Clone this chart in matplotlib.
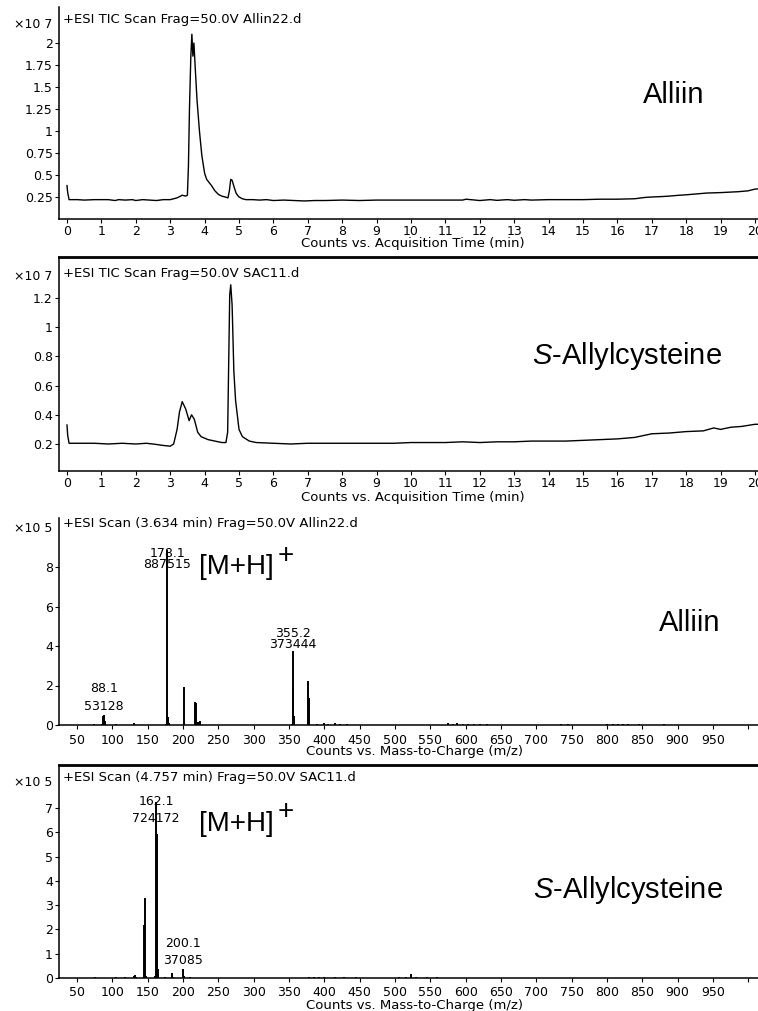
import matplotlib.pyplot as plt

W, H = 758, 1011
plt.rcParams['font.family'] = ['DejaVu Sans']
plt.rcParams['mathtext.fontset'] = 'custom'
plt.rcParams['mathtext.rm'] = 'Liberation Sans'
plt.rcParams['mathtext.it'] = 'Liberation Sans:italic'

# --- TIC chromatogram, Alliin (x1e7 counts) ---
alliin_t = [0.0, 0.02, 0.06, 0.3, 0.5, 0.8, 1.0, 1.2, 1.4, 1.5, 1.7, 1.9, 2.0, 2.2, 2.4, 2.6,
            2.8, 3.0, 3.1, 3.2, 3.3, 3.35, 3.45, 3.5, 3.53, 3.56, 3.6, 3.63, 3.66, 3.69, 3.73,
            3.78, 3.85, 3.92, 4.0, 4.06, 4.12, 4.2, 4.3, 4.4, 4.5, 4.6, 4.68, 4.72, 4.76, 4.8,
            4.86, 4.92, 5.0, 5.1, 5.2, 5.4, 5.6, 5.8, 6.0, 6.3, 6.6, 6.9, 7.2, 7.5, 8.0, 8.5,
            9.0, 9.5, 10.0, 10.5, 11.0, 11.5, 11.6, 12.0, 12.3, 12.5, 12.8, 13.0, 13.3, 13.5,
            14.0, 14.5, 15.0, 15.5, 16.0, 16.5, 16.8, 17.0, 17.3, 17.5, 17.8, 18.0, 18.3, 18.6,
            19.0, 19.5, 19.8, 20.0, 20.2]
alliin_v = [0.38, 0.30, 0.22, 0.22, 0.215, 0.22, 0.22, 0.22, 0.21, 0.22, 0.215, 0.22, 0.21, 0.22,
            0.215, 0.21, 0.22, 0.22, 0.23, 0.24, 0.26, 0.27, 0.26, 0.27, 0.6, 1.25, 1.85, 2.1,
            1.85, 2.0, 1.7, 1.35, 1.0, 0.72, 0.52, 0.45, 0.42, 0.38, 0.32, 0.28, 0.26, 0.25,
            0.24, 0.32, 0.45, 0.44, 0.36, 0.29, 0.25, 0.23, 0.22, 0.22, 0.215, 0.22, 0.21,
            0.215, 0.21, 0.205, 0.21, 0.21, 0.215, 0.21, 0.215, 0.215, 0.215, 0.215, 0.215,
            0.215, 0.225, 0.21, 0.22, 0.212, 0.22, 0.213, 0.22, 0.215, 0.22, 0.22, 0.22, 0.225,
            0.225, 0.23, 0.245, 0.25, 0.255, 0.26, 0.27, 0.275, 0.285, 0.295, 0.30, 0.31, 0.32,
            0.34, 0.345]

# --- TIC chromatogram, S-Allylcysteine (x1e7 counts) ---
sac_t = [0.0, 0.02, 0.06, 0.4, 0.8, 1.2, 1.6, 2.0, 2.3, 2.5, 2.8, 3.0, 3.1, 3.2, 3.27, 3.35,
         3.45, 3.55, 3.62, 3.7, 3.8, 3.9, 4.1, 4.3, 4.5, 4.62, 4.67, 4.7, 4.73, 4.76, 4.8, 4.85,
         4.9, 4.95, 5.0, 5.1, 5.3, 5.5, 6.0, 6.5, 7.0, 7.5, 8.0, 8.5, 9.0, 9.5, 10.0, 10.5, 11.0,
         11.5, 12.0, 12.5, 13.0, 13.5, 14.0, 14.5, 15.0, 15.5, 16.0, 16.5, 17.0, 17.5, 18.0,
         18.5, 18.8, 19.0, 19.3, 19.6, 20.0, 20.2]
sac_v = [0.33, 0.26, 0.205, 0.205, 0.205, 0.2, 0.205, 0.2, 0.205, 0.2, 0.19, 0.185, 0.2, 0.3,
         0.42, 0.49, 0.44, 0.36, 0.40, 0.37, 0.28, 0.25, 0.23, 0.22, 0.21, 0.21, 0.28, 0.75,
         1.22, 1.29, 1.15, 0.7, 0.5, 0.4, 0.3, 0.25, 0.22, 0.21, 0.205, 0.2, 0.205, 0.205,
         0.205, 0.205, 0.205, 0.205, 0.21, 0.21, 0.21, 0.215, 0.21, 0.215, 0.215, 0.22, 0.22,
         0.22, 0.225, 0.23, 0.235, 0.245, 0.27, 0.275, 0.285, 0.29, 0.31, 0.3, 0.315, 0.32,
         0.335, 0.335]

# --- MS spectrum at 3.634 min, Alliin (x1e5 counts) ---
ms1_mz = [74, 86, 87, 88, 89, 105, 118, 130, 131, 176, 177, 178, 179, 180, 201, 202, 217,
          218, 219, 221, 224, 354, 355, 356, 357, 377, 378, 379, 390, 399, 405, 415, 422, 432,
          575, 582, 588, 596, 604, 612, 620, 630, 735, 745, 800, 808, 815, 822, 830, 845, 880]
ms1_int = [0.04, 0.05, 0.45, 0.53, 0.2, 0.03, 0.02, 0.1, 0.05, 0.04, 0.1, 8.875, 0.4, 0.1,
           1.9, 0.1, 1.16, 1.1, 0.05, 0.15, 0.2, 0.05, 3.73, 1.87, 0.44, 2.21, 1.37, 0.05, 0.05,
           0.12, 0.05, 0.08, 0.05, 0.05, 0.08, 0.05, 0.12, 0.06, 0.05, 0.04, 0.05, 0.04, 0.05,
           0.04, 0.04, 0.06, 0.05, 0.05, 0.04, 0.03, 0.03]

# --- MS spectrum at 4.757 min, S-Allylcysteine (x1e5 counts) ---
ms2_mz = [60, 75, 90, 105, 118, 130, 132, 134, 145, 146, 147, 161, 162, 163, 164, 165, 175,
          184, 185, 186, 200, 201, 210, 225, 305, 325, 348, 378, 385, 392, 400, 415, 428, 445,
          505, 515, 523, 530, 545, 560, 720, 750]
ms2_int = [0.02, 0.03, 0.02, 0.06, 0.05, 0.1, 0.12, 0.05, 2.2, 3.29, 0.1, 0.1, 7.24, 5.93,
           0.35, 0.12, 0.05, 0.18, 0.22, 0.05, 0.37, 0.1, 0.03, 0.02, 0.02, 0.02, 0.02, 0.04,
           0.03, 0.03, 0.03, 0.03, 0.03, 0.03, 0.04, 0.06, 0.15, 0.05, 0.04, 0.03, 0.02, 0.02]

# labelled peaks
ms1_lab_mz = [88.1, 178.1, 355.2]
ms1_lab_cnt = [53128, 887515, 373444]
ms2_lab_mz = [162.1, 200.1]
ms2_lab_cnt = [724172, 37085]

time_ticks = list(range(0, 21))
mz_ticks = list(range(50, 1001, 50))


def px_axes(fig, left, top, right, bottom):
    return fig.add_axes([left / W, 1 - bottom / H, (right - left) / W, (bottom - top) / H])


def ftext(x, y, s, **kw):
    fig.text(x / W, 1 - y / H, s, **kw)


def style(ax, top_spine, xpad):
    ax.spines['right'].set_visible(False)
    ax.spines['top'].set_visible(top_spine)
    ax.spines['top'].set_linewidth(2.0)
    ax.spines['left'].set_linewidth(1.1)
    ax.spines['bottom'].set_linewidth(1.1)
    ax.tick_params(axis='both', direction='out', length=3, width=0.8, labelsize=9)
    ax.tick_params(axis='y', pad=1.5)
    ax.tick_params(axis='x', pad=xpad)


fig = plt.figure(figsize=(W / 100, H / 100), dpi=100)

# panel 1
ax1 = px_axes(fig, 59, 7, 760, 219)
ax1.plot(alliin_t, alliin_v, color='black', lw=1.0)
ax1.set_xlim(-8 / 34.4, 693 / 34.4)
ax1.set_ylim(0, 212 / 88)
ax1.set_xticks(time_ticks)
ax1.set_yticks([0.25, 0.5, 0.75, 1, 1.25, 1.5, 1.75, 2])
ax1.set_yticklabels(['0.25', '0.5', '0.75', '1', '1.25', '1.5', '1.75', '2'])
style(ax1, False, 1.5)

# panel 2
ax2 = px_axes(fig, 59, 257, 760, 471)
ax2.plot(sac_t, sac_v, color='black', lw=1.0)
ax2.set_xlim(-8 / 34.4, 693 / 34.4)
ax2.set_ylim(2.2 / 146, 216.2 / 146)
ax2.set_xticks(time_ticks)
ax2.set_yticks([0.2, 0.4, 0.6, 0.8, 1.0, 1.2])
ax2.set_yticklabels(['0.2', '0.4', '0.6', '0.8', '1', '1.2'])
style(ax2, True, 1.5)

# panel 3
ax3 = px_axes(fig, 59, 518, 760, 725)
ax3.vlines(ms1_mz, 0, ms1_int, color='black', lw=1.4)
ax3.set_xlim(50 - 18 / 0.70667, 50 + 683 / 0.70667)
ax3.set_ylim(0, 207 / 19.75)
ax3.set_yticks([0, 2, 4, 6, 8])
style(ax3, False, 3.5)

# panel 4
ax4 = px_axes(fig, 59, 765, 760, 978)
ax4.vlines(ms2_mz, 0, ms2_int, color='black', lw=1.4)
ax4.set_xlim(50 - 18 / 0.70667, 50 + 683 / 0.70667)
ax4.set_ylim(0, 213 / 24.3)
ax4.set_yticks([0, 1, 2, 3, 4, 5, 6, 7])
style(ax4, True, 2.5)

for ax in (ax3, ax4):
    ax.set_xticks(mz_ticks)
    ax.set_xticklabels([str(m) if m < 1000 else '' for m in mz_ticks])

# peak labels (offsets in points relative to peak tops)
ms1_offsets = [12, -7, 9]
ms1_spacing = [1.5, 0.8, 0.8]
for mz, cnt, off, ls in zip(ms1_lab_mz, ms1_lab_cnt, ms1_offsets, ms1_spacing):
    ax3.annotate(f'{mz}\n{cnt}', xy=(mz, cnt / 1e5), xytext=(0, off),
                 textcoords='offset points', ha='center', va='center',
                 fontsize=9, linespacing=ls)
ms2_offsets = [-6, 12]
for mz, cnt, off in zip(ms2_lab_mz, ms2_lab_cnt, ms2_offsets):
    ax4.annotate(f'{mz}\n{cnt}', xy=(mz, cnt / 1e5), xytext=(0, off),
                 textcoords='offset points', ha='center', va='center',
                 fontsize=9, linespacing=1.4)

# titles, multipliers, axis labels
ftext(63, 20, '+ESI TIC Scan Frag=50.0V Allin22.d', fontsize=9.5, va='center')
ftext(63, 273, '+ESI TIC Scan Frag=50.0V SAC11.d', fontsize=9.5, va='center')
ftext(63, 523, '+ESI Scan (3.634 min) Frag=50.0V Allin22.d', fontsize=9.5, va='center')
ftext(63, 778, '+ESI Scan (4.757 min) Frag=50.0V SAC11.d', fontsize=9.5, va='center')

for y, s in [(24, '×10 7'), (277, '×10 7'), (529, '×10 5'), (782, '×10 5')]:
    ftext(52, y, s, fontsize=9, ha='right', va='center')

ftext(413, 243, 'Counts vs. Acquisition Time (min)', fontsize=9.5, ha='center', va='center')
ftext(413, 497, 'Counts vs. Acquisition Time (min)', fontsize=9.5, ha='center', va='center')
ftext(415, 752, 'Counts vs. Mass-to-Charge (m/z)', fontsize=9.5, ha='center', va='center')
ftext(415, 1005, 'Counts vs. Mass-to-Charge (m/z)', fontsize=9.5, ha='center', va='center')

# compound names
big = dict(fontsize=21, family='Liberation Sans', ha='center', va='center')
ftext(674, 95, 'Alliin', **big)
ftext(627, 356, r'$\mathit{S}$-Allylcysteine', **big)
ftext(690, 623, 'Alliin', **big)
ftext(628, 890, r'$\mathit{S}$-Allylcysteine', **big)

ion = dict(fontsize=20, family='Liberation Sans', va='center')
ftext(199, 567, '[M+H]', ha='left', **ion)
ftext(278, 556, '+', ha='left', **ion)
ftext(199, 824, '[M+H]', ha='left', **ion)
ftext(278, 812, '+', ha='left', **ion)

fig.savefig('out.png', dpi=100)
